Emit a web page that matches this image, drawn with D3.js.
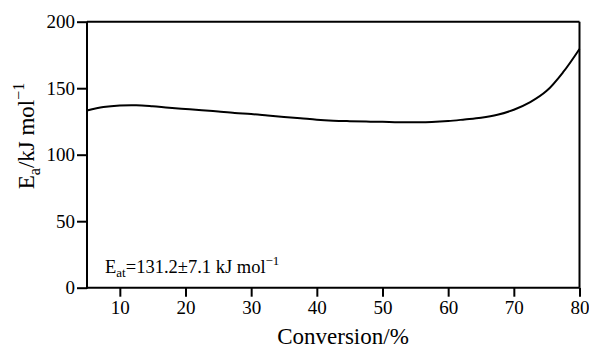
<!DOCTYPE html>
<html>
<head>
<meta charset="utf-8">
<script src="https://cdn.jsdelivr.net/npm/d3@7/dist/d3.min.js"></script>
<style>
  html, body { margin: 0; padding: 0; background: #fff; }
  svg { display: block; }
  svg text { font-family: "Liberation Serif", "DejaVu Serif", "Noto Serif", "Times New Roman", Times, serif !important; }
</style>
</head>
<body>
<svg id="chart" width="589" height="348"></svg>
<script>
const conversion = [5, 7.5, 10, 12.5, 15, 17.5, 20, 22.5, 25, 27.5, 30, 32.5, 35, 37.5, 40, 42.5, 45, 47.5, 50, 52.5, 55, 57.5, 60, 62.5, 65, 67.5, 70, 72.5, 75, 77.5, 80];
const activationEnergy = [133.2, 135.8, 137.0, 137.2, 136.4, 135.3, 134.4, 133.5, 132.4, 131.3, 130.6, 129.5, 128.4, 127.4, 126.3, 125.6, 125.2, 124.9, 124.7, 124.4, 124.4, 124.6, 125.3, 126.5, 127.8, 130.0, 133.8, 139.5, 148.0, 162.0, 179.5];
const xTicks = [10, 20, 30, 40, 50, 60, 70, 80];
const yTicks = [0, 50, 100, 150, 200];

const svg = d3.select("#chart");
const mLeft = 87, mRight = 579.5, mTop = 21.7, mBottom = 287.7;

const x = d3.scaleLinear().domain([5, 80]).range([mLeft, mRight]);
const y = d3.scaleLinear().domain([0, 200]).range([mBottom, mTop]);

// frame (top & right)
svg.append("line").attr("x1", mLeft).attr("x2", mRight).attr("y1", mTop).attr("y2", mTop)
  .attr("stroke", "#000").attr("stroke-width", 2);
svg.append("line").attr("x1", mRight).attr("x2", mRight).attr("y1", mTop).attr("y2", mBottom)
  .attr("stroke", "#000").attr("stroke-width", 2);

const xAxis = svg.append("g").attr("transform", `translate(0,${mBottom})`)
  .call(d3.axisBottom(x).tickValues(xTicks).tickSizeOuter(0).tickSizeInner(9).tickPadding(4));
const yAxis = svg.append("g").attr("transform", `translate(${mLeft},0)`)
  .call(d3.axisLeft(y).tickValues(yTicks).tickSizeOuter(0).tickSizeInner(10).tickPadding(2));

[xAxis, yAxis].forEach(g => {
  g.attr("font-family", null).attr("font-size", null);
  g.selectAll("path.domain").attr("stroke", "#000").attr("stroke-width", 2);
  g.selectAll(".tick line").attr("stroke", "#000").attr("stroke-width", 2);
  g.selectAll(".tick text").attr("fill", "#000").style("font-size", "19px");
});
xAxis.select("path.domain").attr("d", `M${mLeft},0H${mRight}`);
yAxis.select("path.domain").attr("d", `M0,${mBottom + 1}V${mTop}`);

// curve
const line = d3.line().x((d, i) => x(conversion[i])).y(d => y(d)).curve(d3.curveCatmullRom.alpha(0.5));
svg.append("path").datum(activationEnergy).attr("d", line)
  .attr("fill", "none").attr("stroke", "#000").attr("stroke-width", 2);

// x title
svg.append("text").attr("x", 343).attr("y", 344).attr("text-anchor", "middle")
  .style("font-size", "23px").text("Conversion/%");

// y title
const yt = svg.append("text").attr("transform", "translate(34,136) rotate(-90)")
  .attr("text-anchor", "middle").style("font-size", "23px");
yt.append("tspan").text("E");
yt.append("tspan").attr("dy", 6).style("font-size", "16px").text("a");
yt.append("tspan").attr("dy", -6).text("/kJ mol");
yt.append("tspan").attr("dy", -10).style("font-size", "16px").text("−1");

// annotation
const an = svg.append("text").attr("x", 105).attr("y", 273.3).style("font-size", "18.5px");
an.append("tspan").text("E");
an.append("tspan").attr("dy", 4).style("font-size", "13px").text("at");
an.append("tspan").attr("dy", -4).text("=131.2±7.1 kJ mol");
an.append("tspan").attr("dy", -8).style("font-size", "13px").text("−1");
</script>
</body>
</html>
